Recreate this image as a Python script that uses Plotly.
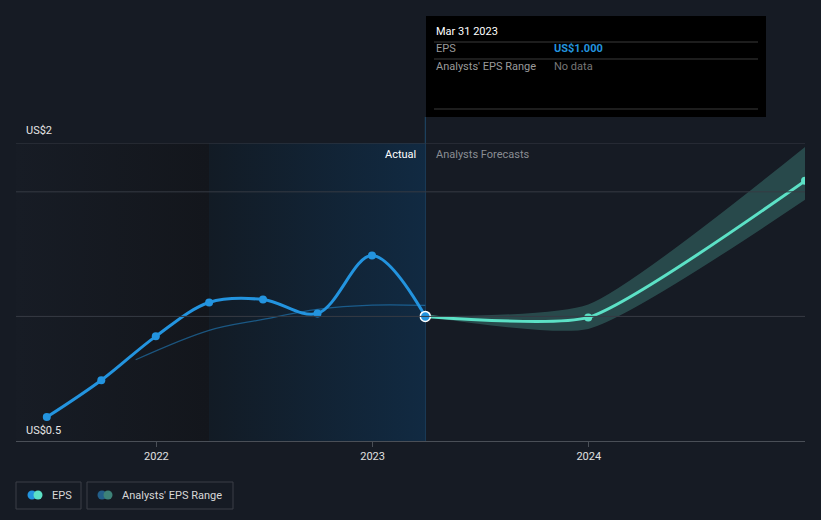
import plotly.graph_objects as go

# ---------------- data ----------------
eps_dates = ["2021-06-30", "2021-09-30", "2021-12-31", "2022-03-31", "2022-06-30",
             "2022-09-30", "2022-12-31", "2023-03-31"]
eps_values = [0.596, 0.744, 0.92, 1.056, 1.068, 1.012, 1.244, 1.000]

fc_dates = ["2023-03-31", "2023-12-31", "2024-12-31"]
fc_values = [1.000, 0.996, 1.544]
fc_high = [1.000, 1.048, 1.68]
fc_low = [1.000, 0.950, 1.468]

past_fc_dates = ["2021-11-27", "2022-03-31", "2022-06-30", "2022-09-30", "2022-12-31", "2023-03-31"]
past_fc_values = [0.826, 0.944, 0.988, 1.028, 1.045, 1.044]

x_ticks = ["2022-01-01", "2023-01-01", "2024-01-01"]
x_tick_labels = ["2022", "2023", "2024"]

# ---------------- geometry helpers ----------------
W, H = 821, 520
L, R, T, B = 16, 805, 143, 441
YMIN, YMAX = 0.5, 1.696
X0, X1 = "2021-05-09", "2024-12-31"


def px(xp):
    return (xp - L) / (R - L)


def py(yp):
    return (B - yp) / (B - T)


BG = "#161b24"
BLUE = "#2394df"
MINT = "#5ce1c6"
GRID = "#363b44"
FONT = "Roboto"
FC_SMOOTH = 0.55

fig = go.Figure()

# shaded regions
fig.add_trace(go.Scatter(
    x=[X0, "2022-03-31", "2022-03-31", X0, X0], y=[YMIN, YMIN, YMAX, YMAX, YMIN],
    fill="toself", mode="lines", line=dict(width=0),
    fillgradient=dict(type="horizontal", colorscale=[[0, "#171c25"], [1, "#13161c"]]),
    hoverinfo="skip", showlegend=False))
fig.add_trace(go.Scatter(
    x=["2022-03-31", "2023-03-31", "2023-03-31", "2022-03-31", "2022-03-31"],
    y=[YMIN, YMIN, YMAX, YMAX, YMIN],
    fill="toself", mode="lines", line=dict(width=0),
    fillgradient=dict(type="horizontal", colorscale=[[0, "#121b25"], [1, "#112a42"]]),
    hoverinfo="skip", showlegend=False))

# forecast band
fig.add_trace(go.Scatter(x=fc_dates, y=fc_high, mode="lines",
                         line=dict(width=0, shape="spline", smoothing=FC_SMOOTH),
                         hoverinfo="skip", showlegend=False))
fig.add_trace(go.Scatter(x=fc_dates, y=fc_low, mode="lines",
                         line=dict(width=0, shape="spline", smoothing=FC_SMOOTH),
                         fill="tonexty", fillcolor="rgba(80,170,160,0.32)",
                         hoverinfo="skip", showlegend=False))

# past forecast thin line
fig.add_trace(go.Scatter(x=past_fc_dates, y=past_fc_values, mode="lines",
                         line=dict(width=1.2, color="rgba(35,148,223,0.5)", shape="spline"),
                         hoverinfo="skip", showlegend=False))

# forecast line
fig.add_trace(go.Scatter(x=fc_dates, y=fc_values, mode="lines",
                         line=dict(width=3, color=MINT, shape="spline", smoothing=FC_SMOOTH),
                         hoverinfo="skip", showlegend=False))
fig.add_trace(go.Scatter(x=fc_dates[1:], y=fc_values[1:], mode="markers",
                         marker=dict(size=8, color=MINT),
                         hoverinfo="skip", showlegend=False))

# EPS line
fig.add_trace(go.Scatter(x=eps_dates, y=eps_values, mode="lines+markers",
                         line=dict(width=3, color=BLUE, shape="spline", smoothing=1.0),
                         marker=dict(size=8, color=BLUE),
                         hoverinfo="skip", showlegend=False))
fig.add_trace(go.Scatter(x=[eps_dates[-1]], y=[eps_values[-1]], mode="markers",
                         marker=dict(size=10, color=BLUE, line=dict(color="white", width=1.5)),
                         hoverinfo="skip", showlegend=False))

shapes = []
# grid lines
for yv in (1.0, 1.5, YMAX):
    shapes.append(dict(type="line", xref="paper", yref="y", x0=0, x1=1, y0=yv, y1=yv,
                       line=dict(color=GRID, width=1), layer="above"))
# vertical separators
shapes.append(dict(type="line", xref="x", yref="paper", x0="2022-03-31", x1="2022-03-31",
                   y0=0, y1=1, line=dict(color="#1c2c3c", width=1), layer="below"))
shapes.append(dict(type="line", xref="x", yref="paper", x0="2023-03-31", x1="2023-03-31",
                   y0=0, y1=py(117), line=dict(color="#1f4a6c", width=1), layer="below"))

# tooltip box
shapes.append(dict(type="rect", xref="paper", yref="paper", x0=px(426), x1=px(766),
                   y0=py(117), y1=py(16), fillcolor="#000000", line=dict(width=0), layer="above"))
for yy in (42, 59, 109):
    shapes.append(dict(type="line", xref="paper", yref="paper", x0=px(434), x1=px(758),
                       y0=py(yy), y1=py(yy), line=dict(color="#3a3a3a", width=1), layer="above"))

# legend boxes
for (a, b) in ((16, 81), (87, 233)):
    shapes.append(dict(type="rect", xref="paper", yref="paper", x0=px(a), x1=px(b),
                       y0=py(509), y1=py(482), line=dict(color="#3a3f47", width=1),
                       fillcolor="rgba(0,0,0,0)", layer="above"))


def circle(cx, cy, r, color):
    return dict(type="circle", xref="paper", yref="paper", x0=px(cx - r), x1=px(cx + r),
                y0=py(cy + r), y1=py(cy - r), fillcolor=color, line=dict(width=0), layer="above")


shapes += [circle(32, 495, 4.5, BLUE), circle(38, 495, 4.5, MINT),
           circle(102, 495, 4.5, "#235f8a"), circle(108, 495, 4.5, "#3d8278")]

annotations = []


def text(x, y, s, color, size=11, anchor="left", bold=False):
    annotations.append(dict(xref="paper", yref="paper", x=px(x), y=py(y), text=("<b>%s</b>" % s) if bold else s,
                            showarrow=False, xanchor=anchor, yanchor="middle",
                            font=dict(family=FONT, size=size, color=color)))


text(24, 130, "US$2", "#e6e6e6", 11)
text(24, 430, "US$0.5", "#e6e6e6", 11)
text(418, 154, "Actual", "#ffffff", 11, anchor="right")
text(434, 154, "Analysts Forecasts", "#8a8d93", 11)
text(434, 31, "Mar 31 2023", "#ffffff", 11)
text(434, 49, "EPS", "#9a9a9a", 11)
text(552, 49, "US$1.000", BLUE, 11, bold=True)
text(434, 66, "Analysts' EPS Range", "#9a9a9a", 11)
text(552, 66, "No data", "#777777", 11)
text(50, 495, "EPS", "#d8d8d8", 11)
text(120, 495, "Analysts' EPS Range", "#d8d8d8", 11)

fig.update_layout(
    width=W, height=H,
    margin=dict(l=L, r=W - R, t=T, b=H - B),
    paper_bgcolor=BG, plot_bgcolor=BG,
    shapes=shapes, annotations=annotations,
    showlegend=False,
    xaxis=dict(type="date", range=[X0, X1], tickvals=x_ticks, ticktext=x_tick_labels,
               showgrid=False, zeroline=False, showline=True, linecolor="#4a4f57", linewidth=1,
               ticks="outside", ticklen=5, tickcolor="#4a4f57",
               tickfont=dict(family=FONT, size=11, color="#e0e0e0")),
    yaxis=dict(range=[YMIN, YMAX], showgrid=False, zeroline=False, showticklabels=False,
               showline=False),
    hovermode=False,
)

fig.write_html("out.html")
